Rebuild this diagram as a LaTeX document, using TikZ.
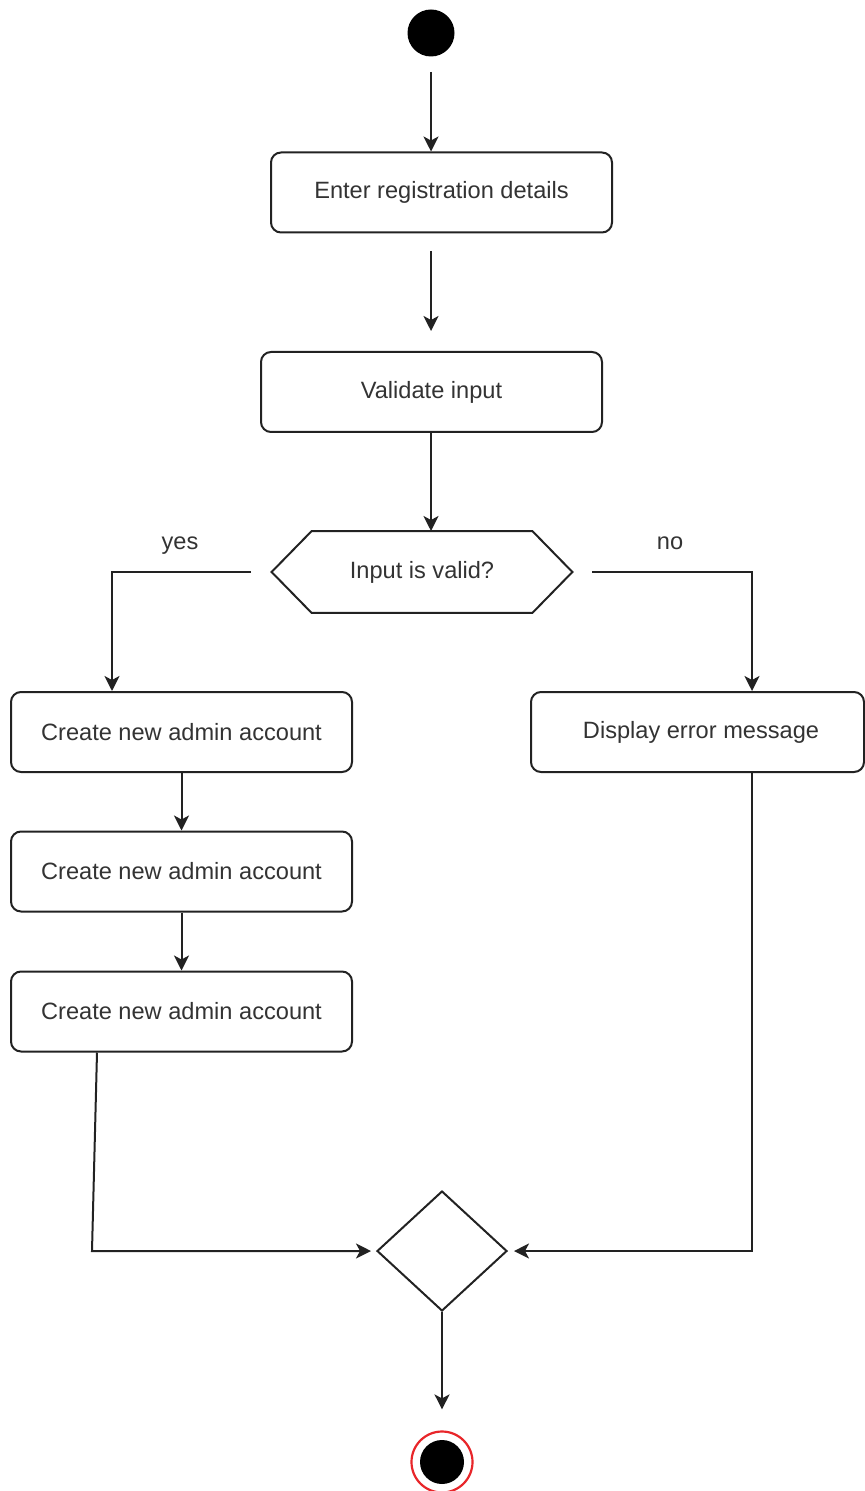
\documentclass[tikz,border=0pt]{standalone}
\usepackage{fontspec}
\setmainfont{Liberation Sans}
\usetikzlibrary{arrows.meta,shapes.geometric,calc}
\definecolor{ink}{HTML}{222222}
\definecolor{txt}{HTML}{333333}
\definecolor{ring}{HTML}{E8262A}
\begin{document}
\begin{tikzpicture}[
  x=0.5pt, y=-0.5pt,
  every node/.style={font=\fontsize{11.8}{14}\selectfont, text=txt},
  action/.style={draw=ink, line width=1pt, rounded corners=5pt, fill=white,
    minimum width=170.5pt, minimum height=40pt, inner sep=0pt},
  flow/.style={draw=ink, line width=1pt, -{Stealth[length=7.5pt,width=7.5pt,inset=2pt]}},
  plain/.style={draw=ink, line width=1pt},
]
\useasboundingbox (0,0) rectangle (865,1491);

% initial state
\node[circle, fill=black, minimum size=23.5pt, inner sep=0pt] (start) at (431,33) {};

% actions
\node[action] (b1) at (441.5,192.5) {Enter registration details};
\node[action] (b2) at (431.5,392) {Validate input};
\node[action] (b3) at (181.5,732) {Create new admin account};
\node[action] (b4) at (181.5,871.5) {Create new admin account};
\node[action] (b5) at (181.5,1011.5) {Create new admin account};
\node[action, minimum width=166.5pt] (b6) at (697.5,732) {\hspace*{3.5pt}Display error message};

% decision (hexagon)
\node[minimum width=150pt, minimum height=40.5pt, inner sep=0pt] (dec) at (422,572) {Input is valid?};
\draw[plain] (dec.west) -- ($(dec.north west)+(40,0)$) -- ($(dec.north east)+(-40,0)$)
  -- (dec.east) -- ($(dec.south east)+(-40,0)$) -- ($(dec.south west)+(40,0)$) -- cycle;

% merge
\node[diamond, draw=ink, line width=1pt, minimum width=65pt, minimum height=60pt, inner sep=0pt] (m) at (442,1251) {};

% final state
\node[circle, draw=ring, line width=1.1pt, minimum size=30.5pt, inner sep=0pt] (end) at (442,1462) {};
\node[circle, fill=black, minimum size=22pt, inner sep=0pt] (endDot) at (end) {};

% guard labels
\node (yes) at (180,546) {yes};
\node (no) at (670,543) {no};

% free connector ends
\coordinate (g1) at (431,251);
\coordinate (g2) at (431,331);
\coordinate (ya) at (251,572);
\coordinate (na) at (592,572);
\coordinate (lc) at (92,1251);

% connectors
\draw[flow, shorten <=7.5pt] (start.south) -- (start.south |- b1.north);
\draw[flow] (g1) -- (g2);
\draw[flow] (431,432) -- (431,531);
\draw[flow] (ya) -| ([xshift=-34.75pt]b3.north);
\draw[flow] (na) -| ([xshift=27.25pt]b6.north);
\draw[flow] (b3.south) -- (b4.north);
\draw[flow] (b4.south) -- (b5.north);
\draw[flow, shorten >=2.5pt] ([xshift=-42.25pt]b5.south) -- (lc) -- (m.west);
\draw[flow, shorten >=3pt] ([xshift=27.25pt]b6.south) |- (m.east);
\draw[flow, shorten >=10.5pt] (m.south) -- (end.north);
\end{tikzpicture}
\end{document}
